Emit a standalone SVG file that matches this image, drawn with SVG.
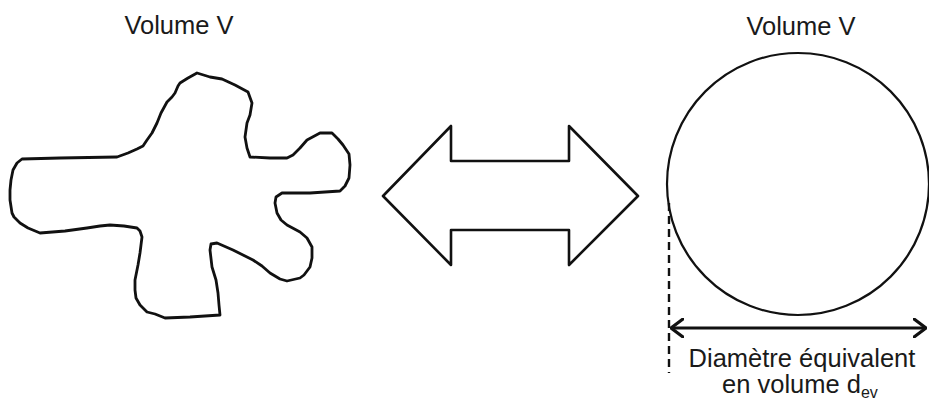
<svg xmlns="http://www.w3.org/2000/svg" width="929" height="405" viewBox="0 0 929 405">
<style>
text{font-family:"Liberation Sans",Arial,sans-serif;font-size:25.5px;fill:#1a1a1a}
.shape{fill:#fff;stroke:#111;stroke-linejoin:round;stroke-linecap:round}
</style>
<defs>
<marker id="ah" viewBox="0 0 14 20" refX="13" refY="10" markerWidth="14" markerHeight="20" markerUnits="userSpaceOnUse" orient="auto-start-reverse">
<path d="M1,1 L13,10 L1,19" fill="none" stroke="#111" stroke-width="3.2" stroke-linecap="round" stroke-linejoin="miter"/>
</marker>
</defs>
<rect width="929" height="405" fill="#fff"/>
<g id="particle">
<text x="179" y="34" text-anchor="middle">Volume V</text>
<path class="shape" stroke-width="2.8" d="M197,73 L210,77 L222,79 L235,85 L248,92 L252,103 L250,115 L247,123 L245,137 L247,148 L250,157 L270,158 L287,158 L293,155 L300,148 L307,140 L320,133 L332,133 L338,139 L343,145 L349,154 L350,165 L349,178 L345,186 L340,191 L310,193 L282,193 L276,197 L275,203 L277,213 L281,220 L287,225 L300,232 L307,238 L312,247 L312,258 L310,267 L304,275 L300,278 L287,281 L280,279 L270,273 L262,266 L253,260 L243,255 L233,250 L217,243 L211,244 L210,250 L212,267 L216,280 L218,293 L219,305 L220,315 L190,317 L165,318 L155,314 L147,312 L140,305 L136,298 L135,290 L135,280 L138,265 L140,253 L142,237 L140,231 L137,228 L124,226 L110,225 L100,226 L87,228 L65,231 L40,233 L28,228 L20,223 L14,217 L12,213 L10,200 L10,190 L11,180 L13,170 L17,163 L22,159 L60,158 L117,157 L128,153 L137,149 L143,146 L147,140 L152,133 L157,123 L161,113 L167,102 L172,97 L175,93 L178,86 L180,83 L188,78 Z"/>
</g>
<g id="equivalence">
<path class="shape" stroke-width="2.6" stroke-linejoin="miter" d="M383,196 L451,126 L451,161 L569,161 L569,126 L638,196 L569,265 L569,230 L451,230 L451,265 Z"/>
</g>
<g id="sphere">
<text x="801" y="35" text-anchor="middle">Volume V</text>
<circle class="shape" cx="798" cy="184" r="131" stroke-width="2.2"/>
<text x="802" y="367" text-anchor="middle">Diamètre équivalent</text>
<text x="722" y="393">en volume d<tspan font-size="16" dy="5">ev</tspan></text>
</g>
<g id="connectors">
<line x1="669" y1="203" x2="669" y2="373" stroke="#111" stroke-width="2.4" stroke-dasharray="8,5"/>
<line x1="671" y1="328" x2="926" y2="328" stroke="#111" stroke-width="3.2" marker-start="url(#ah)" marker-end="url(#ah)"/>
</g>
</svg>
